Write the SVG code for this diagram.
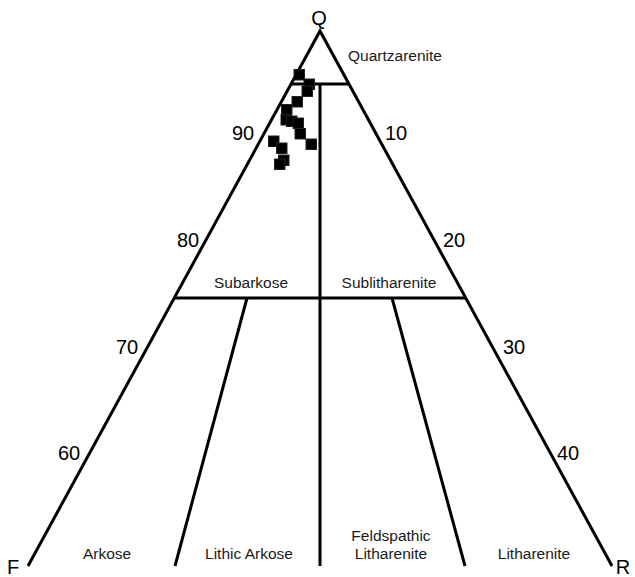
<svg xmlns="http://www.w3.org/2000/svg" width="635" height="577" viewBox="0 0 635 577">
<style>
.ln{stroke:#000;stroke-width:3;fill:none;stroke-linejoin:miter}
.lbl{font-family:"Liberation Sans",Arial,sans-serif;font-size:15.5px;fill:#1a1a1a;text-anchor:middle}
.tick{font-family:"Liberation Sans",Arial,sans-serif;font-size:20px;fill:#000;text-anchor:middle}
.apex{font-family:"Liberation Sans",Arial,sans-serif;font-size:20px;fill:#000;text-anchor:middle}
.pt{fill:#000;stroke:#222;stroke-width:1}
</style>
<rect width="635" height="577" fill="#fff"/>
<g id="connectors">
<polyline class="ln" points="28,566 320,31 612,566"/>
<line class="ln" x1="291" y1="84" x2="349" y2="84"/>
<line class="ln" x1="174" y1="298" x2="466" y2="298"/>
<line class="ln" x1="320" y1="84" x2="320" y2="566"/>
<line class="ln" x1="247" y1="298" x2="175" y2="566"/>
<line class="ln" x1="392" y1="298" x2="465" y2="566"/>
</g>
<g id="vertices">
<text class="apex" x="319" y="25">Q</text>
<text class="apex" x="13" y="574">F</text>
<text class="apex" x="623" y="574">R</text>
</g>
<g id="ticks">
<text class="tick" x="243" y="140">90</text>
<text class="tick" x="396" y="140">10</text>
<text class="tick" x="188" y="247">80</text>
<text class="tick" x="454" y="247">20</text>
<text class="tick" x="127" y="354">70</text>
<text class="tick" x="514" y="354">30</text>
<text class="tick" x="69" y="460">60</text>
<text class="tick" x="568" y="460">40</text>
</g>
<g id="fields">
<text class="lbl" x="395" y="61">Quartzarenite</text>
<text class="lbl" x="251" y="288">Subarkose</text>
<text class="lbl" x="389" y="288">Sublitharenite</text>
<text class="lbl" x="107" y="559">Arkose</text>
<text class="lbl" x="249" y="559">Lithic Arkose</text>
<text class="lbl" x="391" y="541">Feldspathic</text>
<text class="lbl" x="391" y="559">Litharenite</text>
<text class="lbl" x="534" y="559">Litharenite</text>
</g>
<g id="samples">
<rect class="pt" x="294" y="69.5" width="10.5" height="10.5"/>
<rect class="pt" x="304" y="79" width="10.5" height="10.5"/>
<rect class="pt" x="302" y="86" width="10.5" height="10.5"/>
<rect class="pt" x="292" y="96.5" width="10.5" height="10.5"/>
<rect class="pt" x="281.5" y="104.5" width="10.5" height="10.5"/>
<rect class="pt" x="281" y="114.5" width="10.5" height="10.5"/>
<rect class="pt" x="286.5" y="116" width="10.5" height="10.5"/>
<rect class="pt" x="293" y="118" width="10.5" height="10.5"/>
<rect class="pt" x="295" y="128.5" width="10.5" height="10.5"/>
<rect class="pt" x="306" y="139" width="10.5" height="10.5"/>
<rect class="pt" x="268.5" y="136" width="10.5" height="10.5"/>
<rect class="pt" x="276.5" y="143" width="10.5" height="10.5"/>
<rect class="pt" x="278.5" y="155" width="10.5" height="10.5"/>
<rect class="pt" x="274.5" y="159" width="10.5" height="10.5"/>
</g>
</svg>
